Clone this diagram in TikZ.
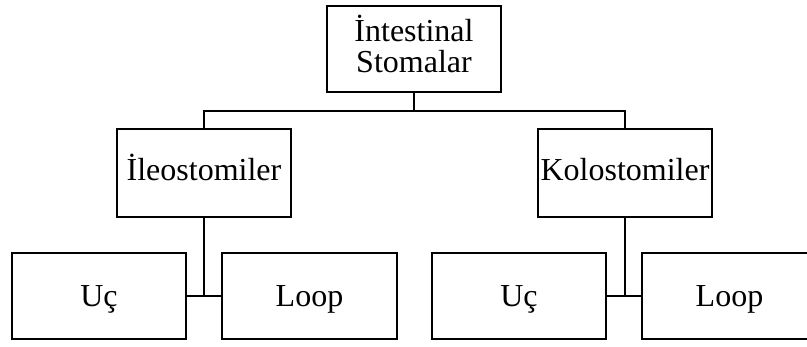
\documentclass[tikz,border=0pt]{standalone}
\usepackage{fontspec}
\setmainfont{Liberation Serif}
\begin{document}
\begin{tikzpicture}[x=1pt,y=-1pt,
  box/.style={draw, line width=1.8pt, rectangle, inner sep=0pt, align=center,
    minimum width=174pt, font=\fontsize{32}{31}\selectfont},
  mid/.style={box, minimum height=88pt, text height=23pt, text depth=7pt},
  leaf/.style={box, minimum height=86pt, text height=25pt, text depth=3pt},
  link/.style={line width=1.8pt}]
\useasboundingbox (0,0) rectangle (807,347);
% boxes
\node[box, minimum height=86pt, text height=55pt, text depth=7pt] (top) at (414,49) {İntestinal\\Stomalar};
\node[mid] (ileo) at (204,173) {İleostomiler};
\node[mid] (kolo) at (625,173) {Kolostomiler};
\node[leaf] (uc1)   at (99,296)    {Uç};
\node[leaf, minimum width=175pt] (loop1) at (309.5,296) {Loop};
\node[leaf] (uc2)   at (519,296)   {Uç};
\node[leaf, minimum width=175pt] (loop2) at (729.5,296) {Loop};
% connectors
\coordinate (bus) at (414,111);
\draw[link] (top.south) -- (bus);
\draw[link] (ileo.north) |- (bus) -| (kolo.north);
\draw[link] (ileo.south) -- (ileo.south |- uc1.east);
\draw[link] (uc1.east) -- (loop1.west);
\draw[link] (kolo.south) -- (kolo.south |- uc2.east);
\draw[link] (uc2.east) -- (loop2.west);
\end{tikzpicture}
\end{document}
